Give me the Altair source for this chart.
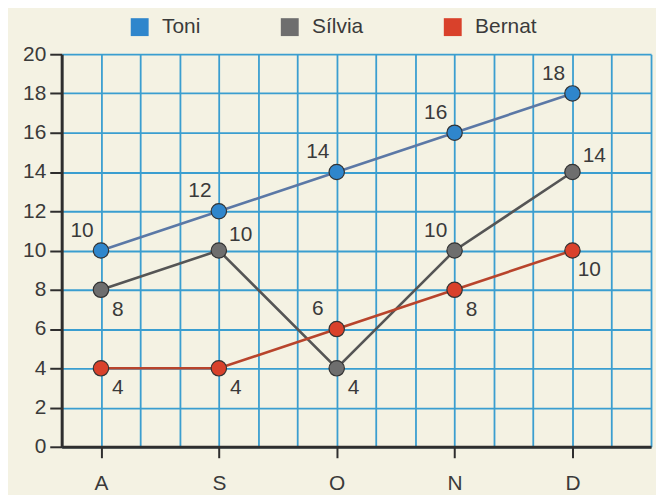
import altair as alt
import pandas as pd

months = ["A", "S", "O", "N", "D"]
series = ["Toni", "Sílvia", "Bernat"]
toni = [10, 12, 14, 16, 18]
silvia = [8, 10, 4, 10, 14]
bernat = [4, 4, 6, 8, 10]
# where each value label sits relative to its point: ul = upper-left, lr = lower-right, ur = upper-right
toni_pos = ["ul", "ul", "ul", "ul", "ul"]
silvia_pos = ["lr", "ur", "lr", "ul", "ur"]
bernat_pos = ["lr", "lr", "ul", "lr", "lr"]
y_ticks = [0, 2, 4, 6, 8, 10, 12, 14, 16, 18, 20]

point_colors = ["#2f86cc", "#6e6e6e", "#d9412b"]
line_colors = ["#5b78a6", "#555555", "#b8442c"]

rows = []
for name, vals, pos in [("Toni", toni, toni_pos), ("Sílvia", silvia, silvia_pos), ("Bernat", bernat, bernat_pos)]:
    for i, (m, v, p) in enumerate(zip(months, vals, pos)):
        rows.append({"serie": name, "idx": i, "mes": m, "valor": v, "pos": p})
df = pd.DataFrame(rows)

grid_vals = [k / 3 for k in range(-1, 15)]
label_expr = "abs(datum.value - round(datum.value)) < 0.01 && round(datum.value) >= 0 && round(datum.value) <= 4 ? " + \
    "['A','S','O','N','D'][round(datum.value)] : ''"

x_enc = alt.X(
    "idx:Q",
    scale=alt.Scale(domain=[-1 / 3, 14 / 3], nice=False, zero=False),
    axis=alt.Axis(
        title=None,
        values=grid_vals,
        tickCount=40,
        labelExpr=label_expr,
        grid=True,
        gridColor="#3a9ed0",
        gridWidth=1.8,
        domainColor="#2e2e2e",
        domainWidth=3,
        tickColor="#2e2e2e",
        tickWidth=2,
        tickSize=11,
        tickOpacity={"condition": {"test": "abs(datum.value - round(datum.value)) < 0.01 && datum.value > -0.1", "value": 1}, "value": 0},
        labelFontSize=21,
        labelFont="Liberation Sans",
        labelColor="#3a3a3a",
        labelPadding=15,
        labelFlush=False,
        labelOverlap=False,
    ),
)
y_enc = alt.Y(
    "valor:Q",
    scale=alt.Scale(domain=[0, 20], nice=False),
    axis=alt.Axis(
        title=None,
        values=y_ticks,
        tickCount=40,
        format="d",
        grid=True,
        gridColor="#3a9ed0",
        gridWidth=1.8,
        domainColor="#2e2e2e",
        domainWidth=3,
        tickColor="#2e2e2e",
        tickWidth=2,
        tickSize=12,
        labelFontSize=21,
        labelFont="Liberation Sans",
        labelColor="#3a3a3a",
        labelPadding=4,
        labelFlush=False,
        labelOverlap=False,
    ),
)

base = alt.Chart(df)

lines = base.mark_line(strokeWidth=2.6).encode(
    x=x_enc,
    y=y_enc,
    color=alt.Color("serie:N", scale=alt.Scale(domain=series, range=line_colors), legend=None),
    detail="serie:N",
)

points = base.mark_circle(size=240, opacity=1, stroke="#333333", strokeWidth=1.2).encode(
    x="idx:Q",
    y="valor:Q",
    color=alt.Color(
        "serie:N",
        scale=alt.Scale(domain=series, range=point_colors),
        legend=alt.Legend(
            title=None,
            orient="none",
            direction="horizontal",
            legendX=68,
            legendY=-38,
            symbolType="square",
            symbolSize=324,
            symbolStrokeWidth=0,
            symbolOpacity=1,
            labelFontSize=21,
            labelFont="Liberation Sans",
            labelColor="#3a3a3a",
            labelOffset=12,
            columnPadding=79,
            padding=0,
        ),
    ),
)

offsets = {"ul": (-19, -20), "lr": (17, 20), "ur": (22, -16)}
texts = []
for p, (dx, dy) in offsets.items():
    texts.append(
        base.transform_filter(alt.datum.pos == p)
        .mark_text(dx=dx, dy=dy, fontSize=21, font="Liberation Sans", color="#3a3a3a", align="center", baseline="middle")
        .encode(x="idx:Q", y="valor:Q", text="valor:Q")
    )

chart = (
    alt.layer(lines, points, *texts)
    .resolve_scale(color="independent")
    .properties(
        width=593,
        height=395,
        background="#f4f2e3",
        padding={"left": 54, "top": 45, "right": 5, "bottom": 47},
        autosize=alt.AutoSizeParams(type="none"),
    )
    .configure_view(strokeWidth=0)
)

chart.save("out.html", embed_options={"renderer": "svg", "actions": False})
